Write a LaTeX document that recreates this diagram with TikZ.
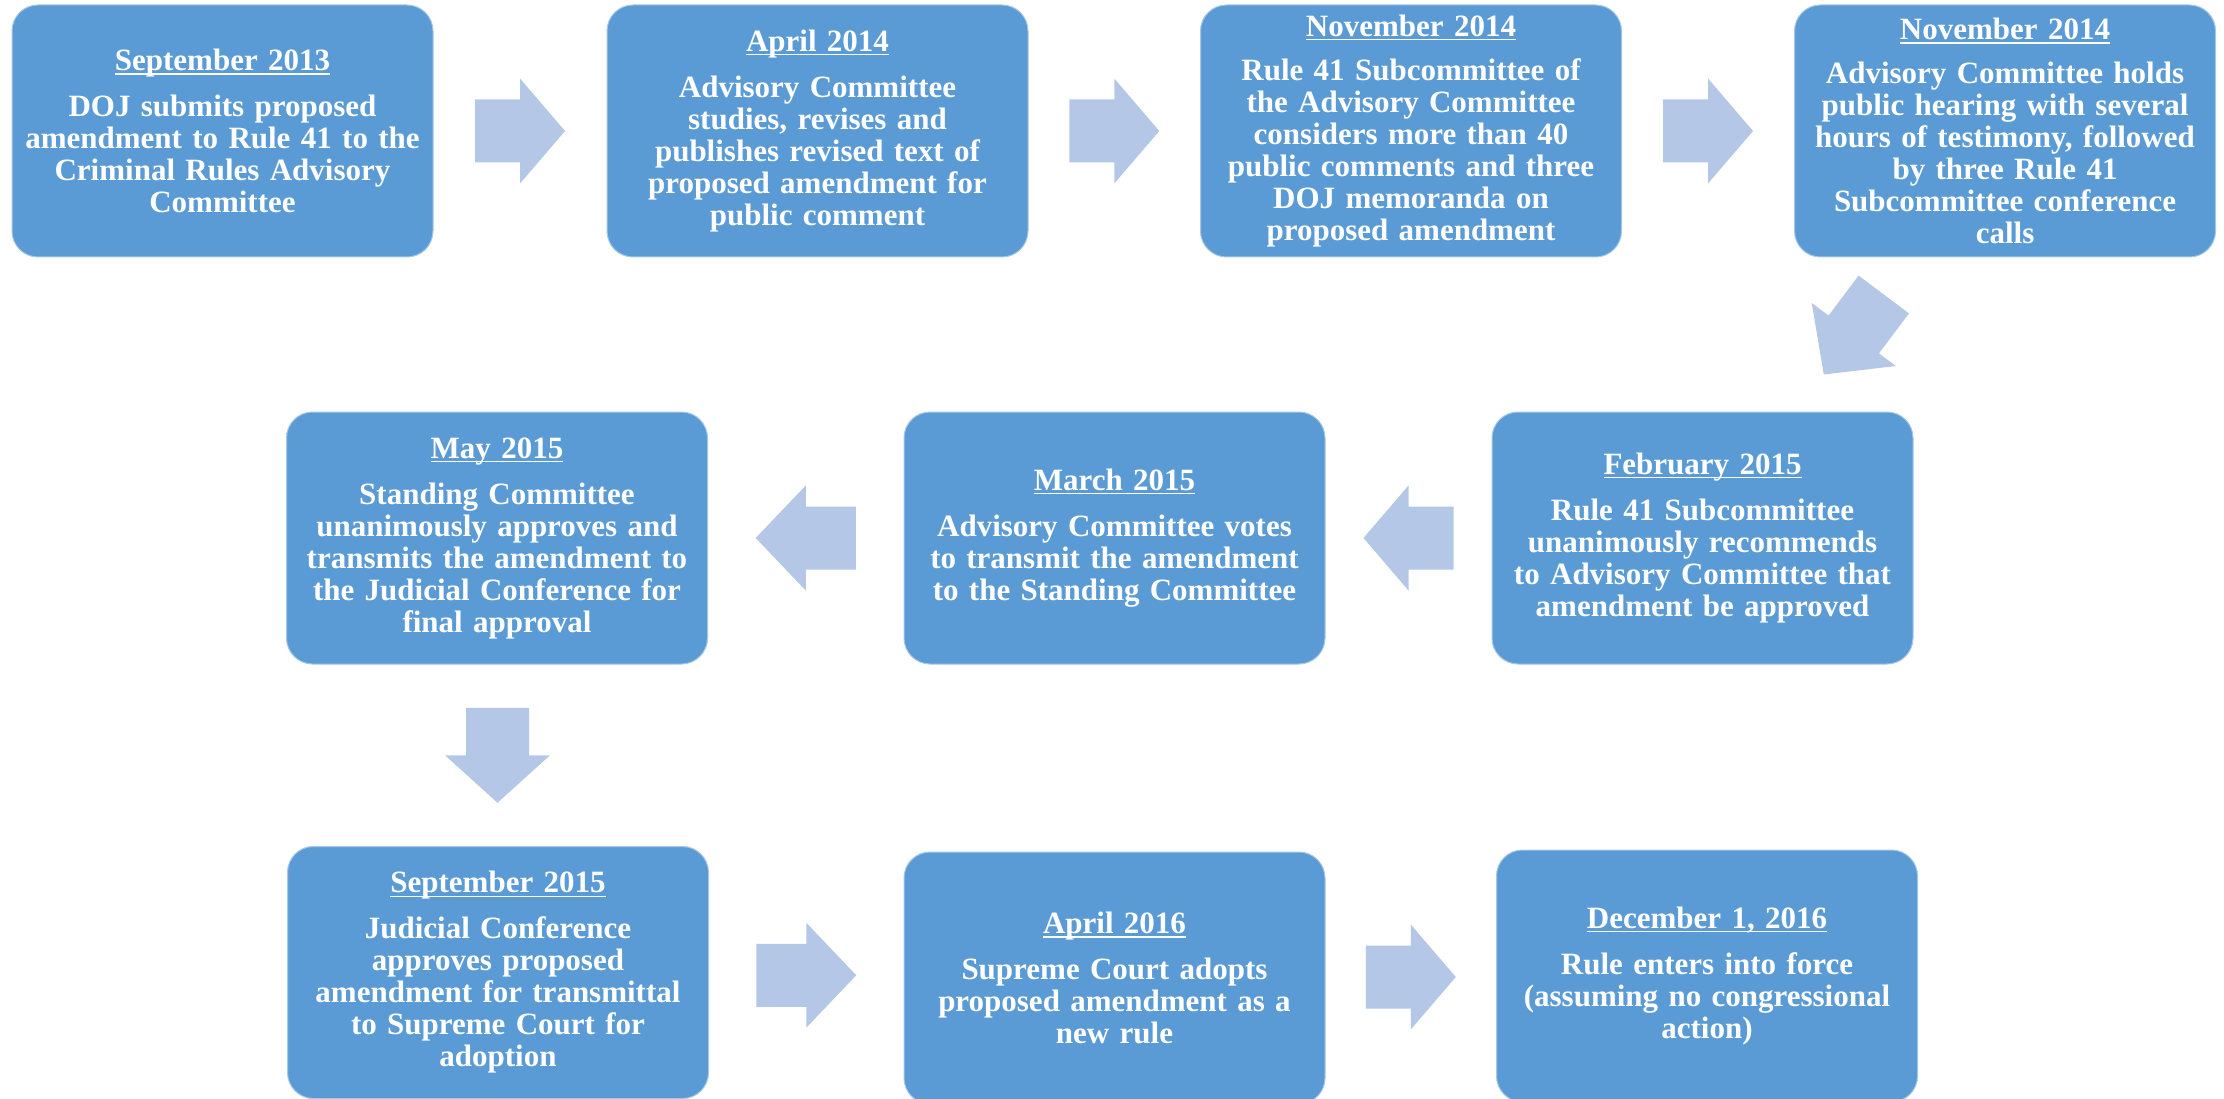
\documentclass[tikz,border=0pt]{standalone}
\usepackage{fontspec}
\setmainfont{Liberation Serif}
\usetikzlibrary{calc}
\definecolor{boxc}{HTML}{5B9BD5}
\definecolor{arrowc}{HTML}{B4C7E7}
\newcommand\datul[1]{\setbox0\hbox{#1}\rlap{\rule[-4pt]{\wd0}{1.4pt}}\box0}
\tikzset{
  stepbox/.style={draw=boxc!55!white, line width=1pt, fill=boxc,
    rounded corners=26pt, minimum width=421pt, minimum height=252pt,
    text width=415pt, align=center, inner sep=0pt, text=white,
    font=\fontsize{31}{32}\selectfont\bfseries},
  pics/barrow/.style={code={
    \fill[arrowc] (-#1/2,-31.5) -- (0,-31.5) -- (0,-52.5) -- (#1/2,0)
      -- (0,52.5) -- (0,31.5) -- (-#1/2,31.5) -- cycle;}}
}
\begin{document}
\begin{tikzpicture}[x=1pt,y=1pt]
\useasboundingbox[fill=white] (0,0) rectangle (2224,-1099);
% row 1
\node[stepbox] (b1) at (222.5,-131) {\datul{September 2013}\\[14pt]DOJ submits proposed\\amendment to Rule 41 to the\\Criminal Rules Advisory\\Committee};
\node[stepbox] (b2) at (817.5,-131) {\datul{April 2014}\\[14pt]Advisory Committee\\studies, revises and\\publishes revised text of\\proposed amendment for\\public comment};
\node[stepbox] (b3) at (1411,-131) {\datul{November 2014}\\[12pt]Rule 41 Subcommittee of\\the Advisory Committee\\considers more than 40\\public comments and three\\DOJ memoranda on\\proposed amendment};
\node[stepbox] (b4) at (2005,-131) {\datul{November 2014}\\[12pt]Advisory Committee holds\\public hearing with several\\hours of testimony, followed\\by three Rule 41\\Subcommittee conference\\calls};
% row 2
\node[stepbox] (b5) at (497,-538) {\datul{May 2015}\\[14pt]Standing Committee\\unanimously approves and\\transmits the amendment to\\the Judicial Conference for\\final approval};
\node[stepbox] (b6) at (1114.5,-538) {\datul{March 2015}\\[14pt]Advisory Committee votes\\to transmit the amendment\\to the Standing Committee};
\node[stepbox] (b7) at (1702.5,-538) {\datul{February 2015}\\[14pt]Rule 41 Subcommittee\\unanimously recommends\\to Advisory Committee that\\amendment be approved};
% row 3
\node[stepbox] (b8) at (498,-972.5) {\datul{September 2015}\\[14pt]Judicial Conference\\approves proposed\\amendment for transmittal\\to Supreme Court for\\adoption};
\node[stepbox] (b9) at (1114.5,-978) {\datul{April 2016}\\[14pt]Supreme Court adopts\\proposed amendment as a\\new rule};
\node[stepbox] (b10) at (1707,-976) {\datul{December 1, 2016}\\[14pt]Rule enters into force\\(assuming no congressional\\action)};
% arrows
\pic at ($(b1.east)!0.5!(b2.west)$) {barrow=90};
\pic at ($(b2.east)!0.5!(b3.west)$) {barrow=90};
\pic at ($(b3.east)!0.5!(b4.west)$) {barrow=90};
\pic[rotate=233.13] at ($(b4.south)!0.5!(b7.north)$) {barrow=100};
\pic[rotate=180] at ($(b7.west)!0.5!(b6.east)$) {barrow=90};
\pic[rotate=180] at ($(b6.west)!0.5!(b5.east)$) {barrow=100};
\pic[rotate=-90] at ($(b5.south)!0.5!(b8.north)$) {barrow=95};
\pic at ($(b8.east)!0.5!(b9.west)$) {barrow=100};
\pic at ($(b9.east)!0.5!(b10.west)$) {barrow=90};
\end{tikzpicture}
\end{document}
